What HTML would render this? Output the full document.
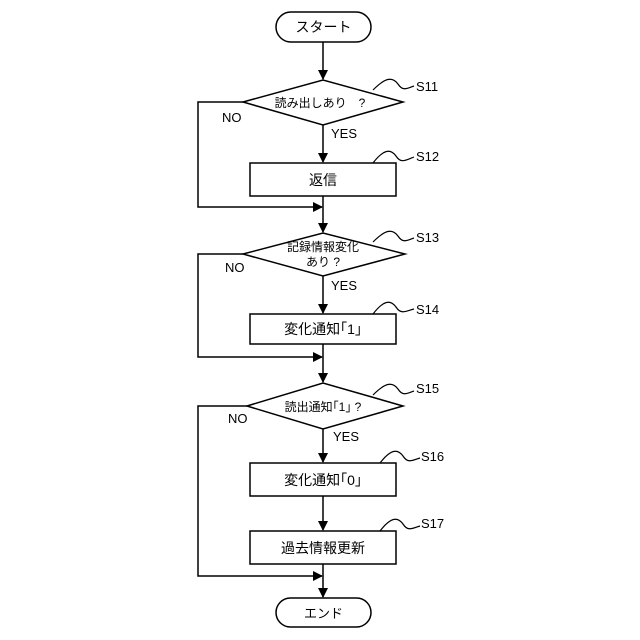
<!DOCTYPE html>
<html><head><meta charset="utf-8"><style>body{margin:0;background:#fff}svg{display:block}</style></head><body>
<svg width="640" height="640" viewBox="0 0 640 640" xmlns="http://www.w3.org/2000/svg" font-family="Liberation Sans, Noto Sans CJK JP, sans-serif" fill="none" stroke="#000" stroke-width="1.5">
<defs><marker id="a" markerWidth="10" markerHeight="10" refX="9" refY="5" orient="auto" markerUnits="userSpaceOnUse"><path d="M0,0 L10,5 L0,10 z" fill="#000" stroke="none"/></marker></defs>
<rect x="276" y="12" width="95" height="30" rx="15"/>
<rect x="276" y="598" width="95" height="29" rx="14.5"/>
<path d="M243,102 L323,80 L403,102 L323,125 Z"/>
<path d="M243,254 L323,233 L405,254 L323,276 Z"/>
<path d="M247,406 L323,383 L403,406 L323,429 Z"/>
<rect x="250" y="163" width="146" height="33"/>
<rect x="250" y="314" width="146" height="30"/>
<rect x="250" y="463" width="146" height="33"/>
<rect x="250" y="531" width="146" height="33"/>
<path d="M323,42 V79" marker-end="url(#a)"/>
<path d="M323,125 V162" marker-end="url(#a)"/>
<path d="M323,196 V232" marker-end="url(#a)"/>
<path d="M323,276 V313" marker-end="url(#a)"/>
<path d="M323,344 V382" marker-end="url(#a)"/>
<path d="M323,429 V462" marker-end="url(#a)"/>
<path d="M323,496 V530" marker-end="url(#a)"/>
<path d="M323,564 V597" marker-end="url(#a)"/>
<path d="M243,102 H198 V207 H322" marker-end="url(#a)"/>
<path d="M243,254 H198 V357 H322" marker-end="url(#a)"/>
<path d="M247,406 H198 V576 H322" marker-end="url(#a)"/>
<g stroke-width="1.2">
<path d="M373,90 C385,78 392,76 398,84 C403,92 408,88 414,86"/>
<path d="M373,163 C383,150 390,148 396,156 C401,164 406,160 414,157"/>
<path d="M373,242 C385,230 392,228 398,236 C403,244 408,240 414,238"/>
<path d="M373,314 C383,301 390,299 396,307 C401,315 406,311 414,309"/>
<path d="M373,395 C385,383 392,381 398,389 C403,397 408,393 414,391"/>
<path d="M380,463 C390,450 397,448 403,456 C408,464 413,460 420,458"/>
<path d="M380,531 C390,518 397,516 403,524 C408,532 413,528 420,526"/>
</g>
<g fill="#000" stroke="none" font-size="13">
<text x="323.5" y="32" text-anchor="middle" font-size="14">スタート</text>
<text x="323.5" y="618" text-anchor="middle" font-size="13">エンド</text>
<text x="320" y="107" text-anchor="middle" font-size="12">読み出しあり　?</text>
<text x="323" y="185" text-anchor="middle" font-size="14">返信</text>
<text x="323" y="251" text-anchor="middle" font-size="12">記録情報変化</text>
<text x="323" y="266" text-anchor="middle" font-size="12">あり ?</text>
<text x="323" y="334" text-anchor="middle" font-size="14">変化通知｢1｣</text>
<text x="323" y="411" text-anchor="middle" font-size="12">読出通知｢1｣ ?</text>
<text x="323" y="485" text-anchor="middle" font-size="14">変化通知｢0｣</text>
<text x="323" y="553" text-anchor="middle" font-size="14">過去情報更新</text>
<text x="331" y="138">YES</text><text x="331" y="290">YES</text><text x="333" y="441">YES</text>
<text x="222" y="122">NO</text><text x="225" y="272">NO</text><text x="228" y="423">NO</text>
<text x="416" y="91">S11</text><text x="416" y="161">S12</text><text x="416" y="242">S13</text>
<text x="416" y="314">S14</text><text x="416" y="393">S15</text><text x="421" y="461">S16</text><text x="421" y="528">S17</text>
</g>
</svg>
</body></html>
